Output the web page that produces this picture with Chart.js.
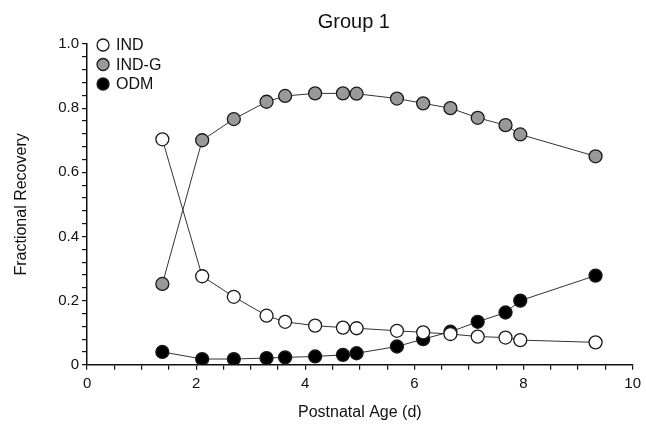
<!DOCTYPE html>
<html>
<head>
<meta charset="utf-8">
<script src="https://cdn.jsdelivr.net/npm/chart.js@4"></script>
<style>
  html, body { margin: 0; padding: 0; background: #fff; }
  #wrap { width: 646px; height: 428px; }
</style>
</head>
<body>
<div id="wrap"><canvas id="myChart" width="646" height="428"></canvas></div>
<script>
const ages = [1.38, 2.11, 2.69, 3.29, 3.63, 4.18, 4.69, 4.94, 5.68, 6.16, 6.66, 7.16, 7.67, 7.94, 9.32];
const ind  = [0.703, 0.276, 0.212, 0.153, 0.134, 0.122, 0.116, 0.114, 0.106, 0.101, 0.096, 0.088, 0.085, 0.077, 0.070];
const indG = [0.252, 0.700, 0.766, 0.820, 0.838, 0.846, 0.846, 0.845, 0.830, 0.815, 0.800, 0.770, 0.747, 0.718, 0.650];
const odm  = [0.040, 0.018, 0.018, 0.021, 0.023, 0.026, 0.031, 0.036, 0.057, 0.080, 0.103, 0.134, 0.163, 0.200, 0.278];

const TITLE = 'Group 1';
const FONT = 'Liberation Sans, Arial, sans-serif';

function series(label, values, fill) {
    return {
        label: label,
        data: values.map((v, i) => ({ x: ages[i], y: v })),
        showLine: true,
        borderColor: '#333',
        borderWidth: 1,
        pointRadius: 6.5,
        pointHoverRadius: 6.5,
        pointBackgroundColor: fill,
        pointBorderColor: '#1a1a1a',
        pointBorderWidth: 1.3,
        backgroundColor: fill,
    };
}

// title centred over the plot, legend tucked into its top-left corner
const overlay = {
    id: 'overlay',
    afterDraw(chart) {
        const { ctx, chartArea } = chart;
        ctx.save();
        ctx.fillStyle = '#111';
        ctx.font = '20px ' + FONT;
        ctx.textAlign = 'center';
        ctx.textBaseline = 'middle';
        ctx.fillText(TITLE, (chartArea.left + chartArea.right) / 2 - 6, 22);

        ctx.font = '16px ' + FONT;
        ctx.textAlign = 'left';
        chart.data.datasets.forEach((ds, i) => {
            const x = chartArea.left + 16;
            const y = chartArea.top + 1 + i * 19.5;
            ctx.beginPath();
            ctx.arc(x, y, 6, 0, Math.PI * 2);
            ctx.fillStyle = ds.pointBackgroundColor;
            ctx.fill();
            ctx.lineWidth = ds.pointBorderWidth;
            ctx.strokeStyle = ds.pointBorderColor;
            ctx.stroke();
            ctx.fillStyle = '#111';
            ctx.fillText(ds.label, x + 13, y + 1);
        });
        ctx.restore();
    }
};

const ctx = document.getElementById('myChart').getContext('2d');

new Chart(ctx, {
    type: 'scatter',
    data: {
        datasets: [
            series('IND', ind, '#ffffff'),
            series('IND-G', indG, '#999999'),
            series('ODM', odm, '#000000'),
        ]
    },
    plugins: [overlay],
    options: {
        responsive: false,
        animation: false,
        layout: { padding: { left: 12, right: 10, top: 44, bottom: 6 } },
        plugins: {
            tooltip: { enabled: false },
            title: { display: false },
            legend: { display: false },
        },
        scales: {
            x: {
                type: 'linear',
                min: 0,
                max: 10,
                border: { color: '#111', width: 1.5 },
                grid: { drawOnChartArea: false, color: '#111', tickLength: 5, lineWidth: 1.2 },
                ticks: {
                    stepSize: 0.5,
                    maxTicksLimit: 100,
                    autoSkip: false,
                    maxRotation: 0,
                    color: '#111',
                    padding: 5,
                    font: { family: FONT, size: 15 },
                    callback: (v) => (Math.abs(v % 2) < 1e-9 ? String(v) : ''),
                },
                title: {
                    display: true,
                    text: 'Postnatal Age (d)',
                    color: '#111',
                    font: { family: FONT, size: 16 },
                    padding: { top: 5, bottom: 0 },
                },
            },
            y: {
                type: 'linear',
                min: 0,
                max: 1,
                border: { color: '#111', width: 1.5 },
                grid: { drawOnChartArea: false, color: '#111', tickLength: 5, lineWidth: 1.2 },
                ticks: {
                    stepSize: 0.04,
                    maxTicksLimit: 100,
                    autoSkip: false,
                    color: '#111',
                    padding: 3,
                    font: { family: FONT, size: 15 },
                    callback: (v) => {
                        const r = Math.round(v * 5);
                        if (Math.abs(v * 5 - r) > 1e-6) return '';
                        return r === 0 ? '0' : (r / 5).toFixed(1);
                    },
                },
                title: {
                    display: true,
                    text: 'Fractional Recovery',
                    color: '#111',
                    font: { family: FONT, size: 16 },
                    padding: { top: 0, bottom: 24 },
                },
            },
        },
    },
});
</script>
</body>
</html>
